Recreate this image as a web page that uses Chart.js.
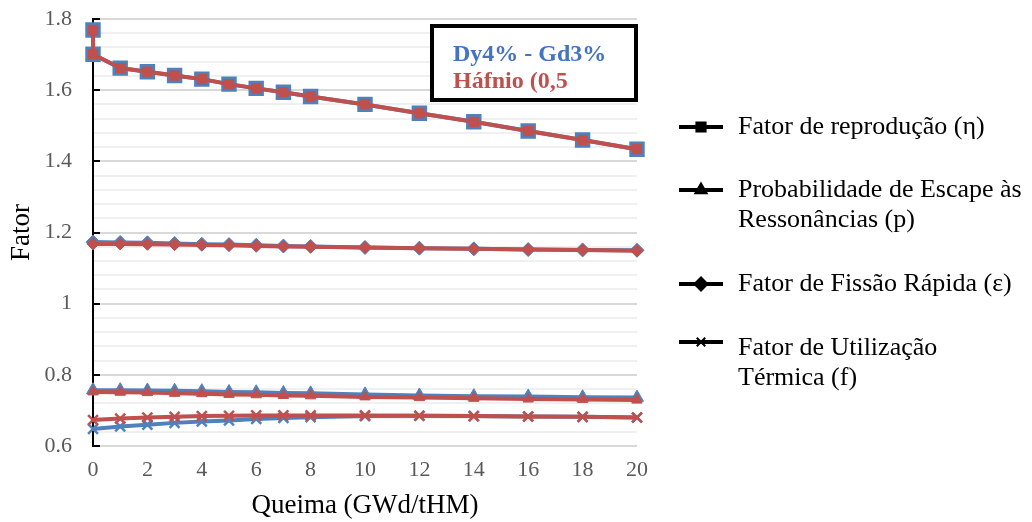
<!DOCTYPE html>
<html>
<head>
<meta charset="utf-8">
<script src="https://cdn.jsdelivr.net/npm/chart.js@4/dist/chart.umd.min.js"></script>
<style>
html,body{margin:0;padding:0;background:#fff;}
#wrap{position:relative;width:1032px;height:522px;}
</style>
</head>
<body>
<div id="wrap"><canvas id="c" width="1032" height="522"></canvas></div>
<script>
// Burnup (GWd/tHM)
const burnup = [0,1,2,3,4,5,6,7,8,10,12,14,16,18,20];
const burnupEta = [0,0,1,2,3,4,5,6,7,8,10,12,14,16,18,20];

// Dy4% - Gd3% (blue)
const etaDy = [1.769,1.701,1.662,1.652,1.641,1.631,1.617,1.605,1.594,1.582,1.560,1.535,1.511,1.485,1.460,1.434];
const pDy   = [0.757,0.757,0.756,0.755,0.754,0.752,0.751,0.749,0.748,0.745,0.742,0.740,0.739,0.737,0.736];
const epsDy = [1.173,1.172,1.171,1.169,1.167,1.166,1.164,1.162,1.161,1.158,1.156,1.154,1.152,1.151,1.150];
const fDy   = [0.648,0.655,0.660,0.665,0.669,0.672,0.676,0.679,0.681,0.684,0.685,0.684,0.683,0.682,0.680];

// Háfnio (red)
const etaHf = [1.769,1.701,1.662,1.652,1.641,1.631,1.617,1.605,1.594,1.582,1.560,1.535,1.511,1.485,1.460,1.434];
const pHf   = [0.752,0.751,0.750,0.748,0.747,0.745,0.744,0.742,0.741,0.738,0.736,0.734,0.732,0.731,0.729];
const epsHf = [1.168,1.168,1.167,1.166,1.165,1.164,1.162,1.161,1.160,1.158,1.156,1.154,1.152,1.151,1.149];
const fHf   = [0.673,0.677,0.680,0.682,0.684,0.685,0.686,0.686,0.686,0.686,0.685,0.684,0.683,0.682,0.680];

const seriesLabels = ['Fator de reprodução (η)', ['Probabilidade de Escape às','Ressonâncias (p)'], 'Fator de Fissão Rápida (ε)', ['Fator de Utilização','Térmica (f)']];
const boxLabels = ['Dy4% - Gd3%', 'Háfnio (0,5'];

const yTicks = [0.6,0.8,1,1.2,1.4,1.6,1.8];
const xTicks = [0,2,4,6,8,10,12,14,16,18,20];

const BLUE = '#4f81bd', RED = '#c0504d';
const SERIF = '"Liberation Serif","Times New Roman",serif';

function pts(xs, ys){ return xs.map((x,i)=>({x:x,y:ys[i]})); }

function ds(label, xs, ys, color, style, radius, order, bw){
  return {
    label: label, data: pts(xs, ys), order: order, clip: false,
    borderColor: color, backgroundColor: color, borderWidth: 4,
    pointStyle: style, pointRadius: radius, pointHoverRadius: radius,
    pointBackgroundColor: color, pointBorderColor: color, pointBorderWidth: bw,
    tension: 0, fill: false
  };
}

const datasets = [
  // red on top (lower order drawn later)
  ds('eta Hf', burnupEta, etaHf, RED, 'rect', 6.5, 1, 1),
  ds('p Hf', burnup, pHf, RED, 'triangle', 6, 1, 1),
  ds('eps Hf', burnup, epsHf, RED, 'rectRot', 6, 1, 1),
  ds('f Hf', burnup, fHf, RED, 'crossRot', 7, 1, 2.5),
  ds('eta Dy', burnupEta, etaDy, BLUE, 'rect', 9.5, 2, 2),
  ds('p Dy', burnup, pDy, BLUE, 'triangle', 7.5, 2, 1),
  ds('eps Dy', burnup, epsDy, BLUE, 'rectRot', 7, 2, 1),
  ds('f Dy', burnup, fDy, BLUE, 'crossRot', 7, 2, 2.5)
];

function drawSymbol(ctx, style, x, y){
  ctx.save();
  ctx.strokeStyle = '#000'; ctx.fillStyle = '#000'; ctx.lineWidth = 4;
  ctx.beginPath(); ctx.moveTo(x-22, y); ctx.lineTo(x+22, y); ctx.stroke();
  ctx.lineWidth = 2;
  Chart.helpers.drawPoint(ctx, {pointStyle: style, radius: style==='crossRot'?6:6.5, rotation:0, borderWidth: 2}, x, y);
  ctx.restore();
}

const extras = {
  id: 'extras',
  afterDraw(chart){
    const ctx = chart.ctx;
    const ys = chart.scales.y;
    // inward major tick marks on y axis
    ctx.save();
    ctx.strokeStyle = '#000'; ctx.lineWidth = 2;
    const ax = chart.chartArea.left;
    yTicks.forEach(v=>{
      const py = Math.round(ys.getPixelForValue(v));
      ctx.beginPath(); ctx.moveTo(ax, py); ctx.lineTo(ax+7, py); ctx.stroke();
    });
    ctx.restore();

    // legend box
    ctx.save();
    ctx.fillStyle = '#fff';
    ctx.fillRect(432, 26, 204, 74);
    ctx.strokeStyle = '#000'; ctx.lineWidth = 4;
    ctx.strokeRect(432, 26, 204, 74);
    ctx.font = 'bold 24px ' + SERIF;
    ctx.textBaseline = 'alphabetic';
    ctx.fillStyle = '#4472c4';
    ctx.fillText(boxLabels[0], 453, 61);
    ctx.fillStyle = RED;
    ctx.fillText(boxLabels[1], 453, 88);
    ctx.restore();

    // series legend
    ctx.save();
    ctx.font = '26px ' + SERIF;
    ctx.fillStyle = '#000';
    ctx.textBaseline = 'middle';
    const items = [
      {style:'rect', y:127, lines:seriesLabels[0]},
      {style:'triangle', y:190, lines:seriesLabels[1]},
      {style:'rectRot', y:284, lines:seriesLabels[2]},
      {style:'crossRot', y:348, lines:seriesLabels[3]}
    ];
    items.forEach(it=>{
      const ls = Array.isArray(it.lines) ? it.lines : [it.lines];
      drawSymbol(ctx, it.style, 701, it.style==='crossRot' ? it.y-6 : it.y);
      ls.forEach((t,i)=>{ ctx.fillText(t, 738, it.y + i*30); });
    });
    ctx.restore();
  }
};

new Chart(document.getElementById('c'), {
  type: 'line',
  data: { datasets: datasets },
  plugins: [extras],
  options: {
    responsive: false,
    animation: false,
    layout: { padding: { left: 6, right: 395, top: 19, bottom: 0 } },
    plugins: { legend: { display: false }, tooltip: { enabled: false } },
    scales: {
      x: {
        type: 'linear', min: 0, max: 20,
        afterBuildTicks: (s)=>{ s.ticks = xTicks.map(v=>({value:v})); },
        afterFit: (s)=>{ s.height = 76; },
        ticks: { color: '#595959', font: { family: SERIF, size: 22 }, padding: 11, maxRotation: 0 },
        grid: { display: false, drawTicks: false },
        border: { display: false },
        title: { display: true, text: 'Queima (GWd/tHM)', color: '#000', font: { family: SERIF, size: 27 }, padding: { top: 0, bottom: 0 } }
      },
      y: {
        min: 0.6, max: 1.8,
        afterBuildTicks: (s)=>{
          const t = [];
          for (let i = 0; i <= 30; i++) t.push({ value: +(0.6 + i*0.04).toFixed(2) });
          s.ticks = t;
        },
        afterFit: (s)=>{ s.width = 87; s.paddingTop = 0; s.paddingBottom = 0; },
        ticks: {
          color: '#595959', font: { family: SERIF, size: 22 }, padding: 21, autoSkip: false,
          callback: (v)=>{ const r = Math.round(v*100); return (r % 20 === 0) ? String(+(v.toFixed(2))) : ''; }
        },
        grid: {
          drawTicks: false,
          color: (c)=>{ const r = Math.round(c.tick.value*100); return (r % 20 === 0) ? '#d9d9d9' : '#f0f0f0'; },
          lineWidth: 2
        },
        border: { display: true, color: '#000', width: 2 },
        title: { display: true, text: 'Fator', color: '#000', font: { family: SERIF, size: 27 }, padding: { top: 0, bottom: 6 } }
      }
    }
  }
});
</script>
</body>
</html>
